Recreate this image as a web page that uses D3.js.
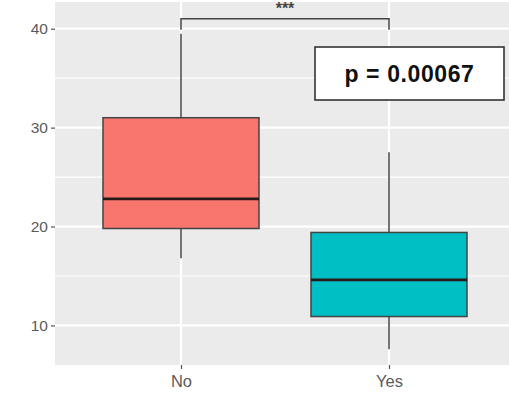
<!DOCTYPE html>
<html>
<head>
<meta charset="utf-8">
<script src="https://cdn.jsdelivr.net/npm/d3@7"></script>
<style>
  html, body { margin: 0; padding: 0; background: #fff; }
  svg { display: block; }
  text { font-family: "Liberation Sans", Arial, sans-serif; }
</style>
</head>
<body>
<svg id="chart" width="509" height="413"></svg>
<script>
// Groups and five-number summaries for each box
const groups = ["No", "Yes"];
const q1 = [19.8, 10.9];
const median = [22.8, 14.6];
const q3 = [31.0, 19.4];
const whiskerLow = [16.8, 7.6];
const whiskerHigh = [39.5, 27.5];
const fills = ["#F8766D", "#00BFC4"];

// Axis ticks
const yMajorTicks = [10, 20, 30, 40];
const yMinorTicks = [15, 25, 35];

// Significance annotation
const bracketValue = 41.0;
const bracketLegBottom = 39.9;
const sigLabel = "***";
const pLabel = "p = 0.00067";

const svg = d3.select("#chart");
const panel = { left: 55, right: 509, top: 2, bottom: 365 };

const x = d3.scalePoint().domain(groups).range([181, 389]);
const step = 208;
const boxWidth = step * 0.75;
const y = d3.scaleLinear().domain([6.0, 42.7]).range([panel.bottom, panel.top]);

// Panel background
svg.append("rect")
  .attr("x", panel.left).attr("y", panel.top)
  .attr("width", panel.right - panel.left).attr("height", panel.bottom - panel.top)
  .attr("fill", "#EBEBEB");

// Grid lines
const grid = svg.append("g");
grid.selectAll(".minor").data(yMinorTicks).join("line")
  .attr("x1", panel.left).attr("x2", panel.right)
  .attr("y1", d => y(d)).attr("y2", d => y(d))
  .attr("stroke", "#fff").attr("stroke-width", 1.2);
grid.selectAll(".major").data(yMajorTicks).join("line")
  .attr("x1", panel.left).attr("x2", panel.right)
  .attr("y1", d => y(d)).attr("y2", d => y(d))
  .attr("stroke", "#fff").attr("stroke-width", 2.2);
grid.selectAll(".vmajor").data(groups).join("line")
  .attr("x1", d => x(d)).attr("x2", d => x(d))
  .attr("y1", panel.top).attr("y2", panel.bottom)
  .attr("stroke", "#fff").attr("stroke-width", 2.2);

// Y axis
const yAxis = svg.append("g")
  .attr("transform", `translate(${panel.left},0)`)
  .call(d3.axisLeft(y).tickValues(yMajorTicks).tickSize(4).tickPadding(3));
yAxis.select(".domain").remove();
yAxis.selectAll(".tick line").attr("stroke", "#555").attr("stroke-width", 1.2);
yAxis.selectAll(".tick text")
  .attr("fill", "#5a5a5a").style("font-size", "15.5px")
  .style("font-family", "'Liberation Sans', Arial, sans-serif");

// X axis
const xAxis = svg.append("g")
  .attr("transform", `translate(0,${panel.bottom})`)
  .call(d3.axisBottom(x).tickSize(4).tickPadding(6));
xAxis.select(".domain").remove();
xAxis.selectAll(".tick line").attr("stroke", "#555").attr("stroke-width", 1.2);
xAxis.selectAll(".tick text")
  .attr("fill", "#5a5a5a").style("font-size", "16.5px")
  .style("font-family", "'Liberation Sans', Arial, sans-serif");

// Boxplots
const boxes = svg.append("g").selectAll("g").data(groups).join("g");
boxes.append("line")
  .attr("x1", d => x(d)).attr("x2", d => x(d))
  .attr("y1", (d, i) => y(whiskerHigh[i])).attr("y2", (d, i) => y(q3[i]))
  .attr("stroke", "#444").attr("stroke-width", 1.5);
boxes.append("line")
  .attr("x1", d => x(d)).attr("x2", d => x(d))
  .attr("y1", (d, i) => y(q1[i])).attr("y2", (d, i) => y(whiskerLow[i]))
  .attr("stroke", "#444").attr("stroke-width", 1.5);
boxes.append("rect")
  .attr("x", d => x(d) - boxWidth / 2).attr("width", boxWidth)
  .attr("y", (d, i) => y(q3[i])).attr("height", (d, i) => y(q1[i]) - y(q3[i]))
  .attr("fill", (d, i) => fills[i])
  .attr("stroke", "#444").attr("stroke-width", 1.5);
boxes.append("line")
  .attr("x1", d => x(d) - boxWidth / 2).attr("x2", d => x(d) + boxWidth / 2)
  .attr("y1", (d, i) => y(median[i])).attr("y2", (d, i) => y(median[i]))
  .attr("stroke", "#2a1a1a").attr("stroke-width", 2.8);

// Significance bracket
const bx1 = x(groups[0]), bx2 = x(groups[1]);
svg.append("path")
  .attr("d", `M${bx1},${y(bracketLegBottom)}V${y(bracketValue)}H${bx2}V${y(bracketLegBottom)}`)
  .attr("fill", "none").attr("stroke", "#444").attr("stroke-width", 1.5);
svg.append("text")
  .attr("x", (bx1 + bx2) / 2).attr("y", y(bracketValue) - 5)
  .attr("text-anchor", "middle")
  .attr("fill", "#444").style("font-size", "16px").style("font-weight", "bold")
  .text(sigLabel);

// p-value label box
const pBox = { x: 315, y: 47, w: 189, h: 53 };
svg.append("rect")
  .attr("x", pBox.x).attr("y", pBox.y).attr("width", pBox.w).attr("height", pBox.h)
  .attr("fill", "#fff").attr("stroke", "#333").attr("stroke-width", 1.6);
svg.append("text")
  .attr("x", pBox.x + pBox.w / 2).attr("y", pBox.y + pBox.h / 2)
  .attr("text-anchor", "middle").attr("dominant-baseline", "central")
  .attr("fill", "#111").style("font-size", "23px").style("font-weight", "bold")
  .style("letter-spacing", "0.6px")
  .text(pLabel);
</script>
</body>
</html>
